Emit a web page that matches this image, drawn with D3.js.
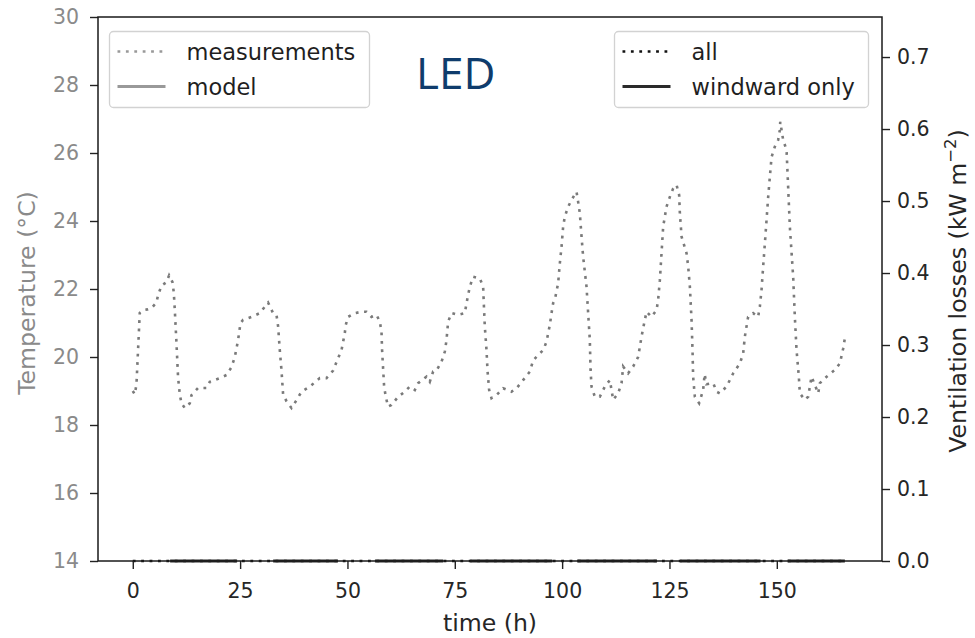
<!DOCTYPE html>
<html>
<head>
<meta charset="utf-8">
<script src="https://cdn.jsdelivr.net/npm/d3@7"></script>
<style>
  body { margin: 0; background: #fff; }
  svg { display: block; }
  text { font-family: "DejaVu Sans", sans-serif; }
</style>
</head>
<body>
<svg id="chart" width="975" height="638"></svg>
<script>
// Indoor temperature measurements, LED compartment (time in hours)
const hours = [
  0, 0.47, 0.86, 1.63, 2.40, 3.4, 4.36, 5.52, 5.89, 6.69, 7.85, 8.46, 9.25, 9.55, 9.78, 10.18, 10.55, 10.95,
  11.34, 12.11, 13.28, 13.68, 15.21, 17.17, 17.94, 20.27, 21.83, 22.99, 23.76, 24.53, 25.09, 25.69, 27.65,
  29.58, 31.52, 32.68, 33.47, 33.85, 34.24, 34.64, 35.01, 35.80, 36.97, 38.13, 39.30, 41.23, 43.56, 45.12,
  46.66, 47.6, 48.61, 49.38, 49.6, 50.15, 51.71, 53.27, 54.44, 55.60, 56.77, 57.54, 57.93, 58.07, 58.30,
  58.54, 58.93, 59.47, 60.26, 61.80, 63.36, 64.52, 65.69, 66.46, 68.41, 69.18, 69.95, 70.74, 71.91, 72.68,
  73.07, 73.45, 74.24, 75.77, 77.33, 77.73, 78.10, 78.50, 79.27, 80.83, 81.60, 81.75, 81.99, 82.39, 82.62,
  83.00, 83.55, 84.72, 86.26, 88.21, 89.38, 90.91, 92.48, 93.25, 94.41, 95.57, 96.37, 97.13, 97.53, 97.9,
  98.3, 99.07, 99.46, 99.86, 100.23, 100.63, 101.4, 102.19, 103.35, 103.72, 104.12, 104.52, 104.89, 105.68,
  106.06, 106.45, 106.62, 106.85, 107.62, 108.78, 109.95, 111.11, 111.51, 111.88, 113.04, 113.84, 114.21,
  115.37, 116.54, 117.7, 118.5, 119.26, 119.66, 120.82, 121.99, 122.36, 122.76, 123.15, 123.53, 124.31,
  125.09, 125.86, 126.65, 127.26, 127.42, 127.82, 128.98, 129.36, 129.75, 130.14, 130.37, 130.51, 130.91,
  131.91, 132.84, 133.2, 133.6, 134.8, 135.2, 135.97, 136.73, 138.3, 139.84, 141.4, 142.16, 142.56, 142.95,
  143.32, 144.49, 145.65, 146.05, 146.44, 146.82, 147.22, 147.61, 147.99, 148.38, 148.78, 149.55, 150.31,
  150.71, 150.8, 151.48, 152.27, 152.64, 153.04, 153.81, 154.2, 154.6, 155.13, 155.37, 156.53, 157.3,
  158.09, 158.86, 159.64, 160.03, 161.59, 163.52, 164.69, 165.46, 165.85
];
const tempMeasured = [
  19.0, 18.9, 19.2, 21.3, 21.38, 21.4, 21.44, 21.6, 21.82, 22.1, 22.2, 22.4, 22.2, 21.9, 21.4, 20.4, 19.4, 18.9,
  18.64, 18.5, 18.64, 18.88, 19.09, 19.09, 19.27, 19.38, 19.47, 19.7, 20.0, 20.5, 21.0, 21.09, 21.18,
  21.29, 21.6, 21.29, 21.24, 20.9, 20.2, 19.6, 18.9, 18.7, 18.5, 18.73, 18.98, 19.13, 19.38, 19.38,
  19.6, 19.9, 20.2, 20.7, 20.94, 21.18, 21.29, 21.33, 21.33, 21.18, 21.24, 21.04, 20.74, 20.2, 19.67,
  19.13, 18.83, 18.54, 18.59, 18.83, 18.98, 19.13, 19.03, 19.23, 19.42, 19.27, 19.57, 19.6, 19.86, 20.16,
  20.5, 21.04, 21.29, 21.24, 21.29, 21.58, 21.82, 22.07, 22.36, 22.31, 22.07, 21.6, 20.9, 20.2, 19.6,
  19.03, 18.79, 18.88, 19.08, 18.98, 19.08, 19.32, 19.57, 19.9, 20.06, 20.2, 20.45, 20.94, 21.29, 21.58,
  21.68, 22.17, 22.75, 23.24, 23.83, 24.13, 24.42, 24.62, 24.86, 24.57, 24.23, 23.54, 22.95, 22.07,
  21.29, 20.5, 19.62, 19.13, 18.83, 18.83, 19.13, 19.32, 19.03, 18.74, 18.93, 19.23, 19.72,
  19.52, 19.72, 20.0, 20.6, 21.09, 21.33, 21.18, 21.38, 21.68, 22.26, 23.05, 23.83, 24.42,
  24.71, 24.96, 25.06, 24.76, 24.23, 23.54, 23.05, 22.66, 22.07, 21.09, 20.2, 19.42, 18.83,
  18.64, 19.03, 19.5, 19.2, 19.23, 19.23, 18.98, 18.93, 19.13, 19.52, 19.81, 20.1, 20.6, 20.9,
  21.18, 21.29, 21.18, 21.48, 21.97, 22.66, 23.34, 24.03, 24.71, 25.3, 25.88, 26.19, 26.38,
  26.68, 26.92, 26.38, 26.09, 25.0, 23.83, 22.36, 21.18, 20.2, 19.42, 18.93, 18.74, 18.83,
  19.42, 19.18, 18.93, 19.23, 19.42, 19.62, 19.81, 20.25, 20.55
];

// Ventilation losses: all openings
const lossAllHours = [0, 165.85];
const lossAll = [0, 0];

// Ventilation losses: windward openings only (recorded periods)
const windwardStart = [8.7, 32.7, 56.4, 78.6, 103.5, 127.5, 152.5];
const windwardEnd = [24.3, 47.8, 72.3, 97.7, 122.1, 146.2, 165.85];
const windwardLoss = [0, 0, 0, 0, 0, 0, 0];

const xTicks = [0, 25, 50, 75, 100, 125, 150];
const tempTicks = [14, 16, 18, 20, 22, 24, 26, 28, 30];
const lossTicks = [0.0, 0.1, 0.2, 0.3, 0.4, 0.5, 0.6, 0.7];

const m = { left: 98, right: 882, top: 17, bottom: 561 };

const svg = d3.select("#chart");

const x = d3.scaleLinear().domain([-8.1, 174.5]).range([m.left, m.right]);
const yT = d3.scaleLinear().domain([14, 30]).range([m.bottom, m.top]);
const yL = d3.scaleLinear().domain([0, 0.7556]).range([m.bottom, m.top]);

const dotted = "2.8,5.6";

// measured temperature
const tempSeries = hours.map((h, i) => [h, tempMeasured[i]]);
svg.append("path")
  .datum(tempSeries)
  .attr("fill", "none")
  .attr("stroke", "#7a7a7a")
  .attr("stroke-width", 2.6)
  .attr("stroke-dasharray", dotted)
  .attr("d", d3.line().x(d => x(d[0])).y(d => yT(d[1])));

// ventilation losses, all openings
const allSeries = lossAllHours.map((h, i) => [h, lossAll[i]]);
svg.append("path")
  .datum(allSeries)
  .attr("fill", "none")
  .attr("stroke", "#111")
  .attr("stroke-width", 2.6)
  .attr("stroke-dasharray", dotted)
  .attr("d", d3.line().x(d => x(d[0])).y(d => yL(d[1])));

// ventilation losses, windward only
const lossLine = d3.line().x(d => x(d[0])).y(d => yL(d[1]));
windwardStart.forEach((s, i) => {
  svg.append("path")
    .datum([[s, windwardLoss[i]], [windwardEnd[i], windwardLoss[i]]])
    .attr("fill", "none")
    .attr("stroke", "#2a2a2a")
    .attr("stroke-width", 3)
    .attr("d", lossLine);
});

// axes
function styleAxis(g, color) {
  g.select(".domain").remove();
  g.selectAll(".tick line").attr("stroke", "#222").attr("stroke-width", 1.4);
  g.selectAll(".tick text")
    .attr("fill", color)
    .style("font-size", "20.5px")
    .style("font-family", "'DejaVu Sans', sans-serif");
}

svg.append("g")
  .attr("transform", `translate(0,${m.bottom})`)
  .call(d3.axisBottom(x).tickValues(xTicks).tickFormat(d3.format("d")).tickSize(8).tickPadding(14))
  .call(g => styleAxis(g, "#262626"));

svg.append("g")
  .attr("transform", `translate(${m.left},0)`)
  .call(d3.axisLeft(yT).tickValues(tempTicks).tickFormat(d3.format("d")).tickSize(8).tickPadding(11))
  .call(g => styleAxis(g, "#8a8a8a"));

svg.append("g")
  .attr("transform", `translate(${m.right},0)`)
  .call(d3.axisRight(yL).tickValues(lossTicks).tickFormat(d3.format(".1f")).tickSize(8).tickPadding(7))
  .call(g => styleAxis(g, "#262626"));

// frame
svg.append("rect")
  .attr("x", m.left).attr("y", m.top)
  .attr("width", m.right - m.left).attr("height", m.bottom - m.top)
  .attr("fill", "none").attr("stroke", "#1a1a1a").attr("stroke-width", 1.5);

// axis titles
svg.append("text")
  .attr("x", (m.left + m.right) / 2).attr("y", 631)
  .attr("text-anchor", "middle")
  .style("font-size", "23.6px").attr("fill", "#262626")
  .text("time (h)");

svg.append("text")
  .attr("transform", `translate(35,${(m.top + m.bottom) / 2 + 4}) rotate(-90)`)
  .attr("text-anchor", "middle")
  .style("font-size", "23.6px").attr("fill", "#8a8a8a")
  .text("Temperature (°C)");

const rl = svg.append("text")
  .attr("transform", `translate(966,${(m.top + m.bottom) / 2 + 2}) rotate(-90)`)
  .attr("text-anchor", "middle")
  .style("font-size", "23.6px").attr("fill", "#262626");
rl.append("tspan").text("Ventilation losses (kW m");
rl.append("tspan").attr("dy", -10).style("font-size", "16.5px").text("−2");
rl.append("tspan").attr("dy", 10).text(")");

// panel title
svg.append("text")
  .attr("x", 416).attr("y", 89)
  .style("font-family", "'Open Sans', sans-serif")
  .style("font-size", "44px")
  .attr("fill", "#0f3c6c")
  .text("LED");

// legends
function legend(x0, y0, w, items) {
  const g = svg.append("g");
  g.append("rect")
    .attr("x", x0).attr("y", y0).attr("width", w).attr("height", 76)
    .attr("rx", 4).attr("fill", "#fff").attr("fill-opacity", 0.85)
    .attr("stroke", "#d2d2d2").attr("stroke-width", 1.3);
  items.forEach((it, i) => {
    const yy = y0 + 20 + i * 35;
    g.append("line")
      .attr("x1", x0 + 8).attr("x2", x0 + 56)
      .attr("y1", yy).attr("y2", yy)
      .attr("stroke", it.color).attr("stroke-width", it.width)
      .attr("stroke-dasharray", it.dash || null);
    g.append("text")
      .attr("x", x0 + 77).attr("y", yy + 8)
      .style("font-size", "22.5px").attr("fill", "#1f1f1f")
      .text(it.label);
  });
}

legend(109.5, 31.5, 260, [
  { label: "measurements", color: "#999", width: 2.6, dash: dotted },
  { label: "model", color: "#999", width: 3 }
]);
legend(614.5, 31.5, 254, [
  { label: "all", color: "#111", width: 2.6, dash: dotted },
  { label: "windward only", color: "#2a2a2a", width: 3 }
]);
</script>
</body>
</html>
